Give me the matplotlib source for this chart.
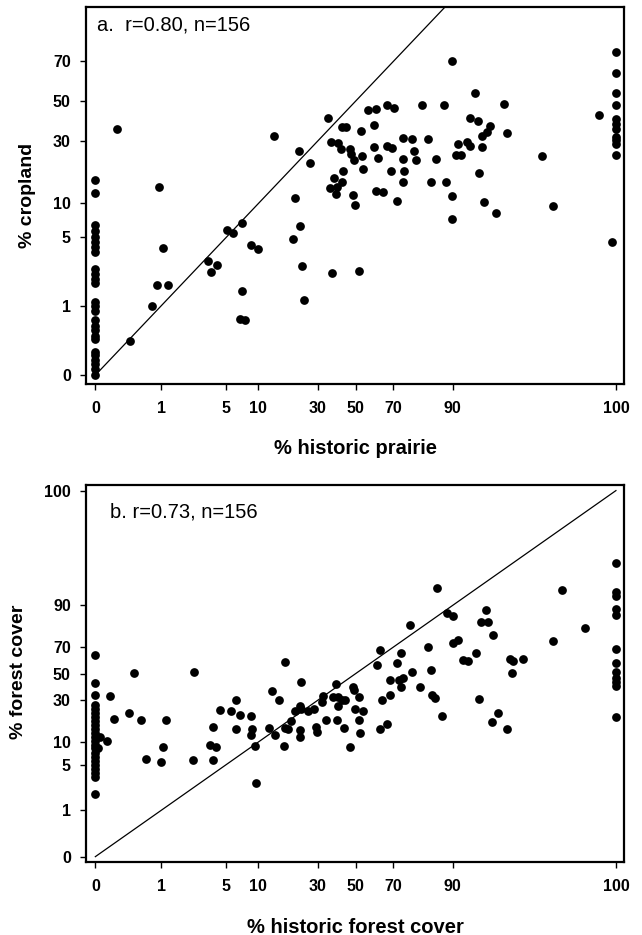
import numpy as np
import matplotlib
matplotlib.use("Agg")
import matplotlib.pyplot as plt

plt.rcParams['font.family'] = ['Liberation Sans', 'DejaVu Sans']

# ---- data (percent values) ----
tick_vals = [0, 1, 5, 10, 30, 50, 70, 90, 100]
ytick_a = [0, 1, 5, 10, 30, 50, 70]

# panel a: % historic prairie vs % cropland
crop_at_zero = [15.6, 12.3, 6.45, 5.77, 5.0, 4.5, 4.06, 3.63, 2.5, 2.22, 1.96, 1.78,
                1.09, 1.0, 0.87, 0.65, 0.55, 0.47, 0.38, 0.34, 0.19, 0.16, 0.11, 0.08,
                0.04, 0.0]
crop_at_hundred = [73.9, 64.6, 54.1, 48.0, 40.6, 37.8, 35.4, 31.8, 30.3, 28.7, 24.2]
prairie_pts = [
    (0.19, 35.4), (0.94, 13.7), (1.05, 4.0), (0.87, 1.7), (1.2, 1.7), (0.75, 1.0),
    (0.35, 0.32), (3.3, 3.0), (3.5, 2.3), (4.05, 2.7), (5.1, 5.8), (5.85, 5.5),
    (7.1, 6.8), (8.55, 4.2), (9.9, 3.9), (7.1, 1.45), (6.7, 0.69), (7.6, 0.65),
    (13.6, 32.2), (22, 25.8), (26.5, 21.2), (20.4, 11.1), (22.1, 6.3), (19.7, 4.8),
    (23, 2.64), (24, 1.15), (35.2, 41.3), (37, 2.26), (51.9, 2.35),
    (89.9, 70), (57, 45.5), (61, 45.9), (67, 48.1), (70.1, 46.5), (81.6, 47.9),
    (88, 47.9), (42.2, 36.3), (44.6, 36.3), (52.8, 34.6), (60.2, 37.3), (36.4, 29.6),
    (40.3, 29.2), (41.7, 26.4), (46.9, 26.3), (47.4, 24.5), (49.3, 22.0), (53.7, 23.6),
    (60, 27.3), (62.3, 22.9), (66.7, 27.7), (69.6, 26.75), (74.5, 31.3), (78.2, 30.7),
    (83.7, 31.0), (78.7, 25.6), (79.5, 22.3), (74.5, 22.4), (85.9, 22.5), (43.1, 18.2),
    (53.9, 18.9), (69, 18.4), (74.8, 18.3), (37.9, 16.2), (42.6, 15.0), (74.5, 15.0),
    (84.6, 14.9), (88.5, 14.9), (36, 13.4), (39.5, 13.7), (39.3, 12.05), (48.5, 11.85),
    (49.6, 9.7), (61.3, 12.8), (65.1, 12.5), (71.5, 10.5), (89.9, 11.6), (89.9, 7.36),
    (93.8, 54.2), (96.8, 48.6), (99.86, 42.6), (93.1, 41.3), (94.2, 39.8), (95.5, 37.1),
    (95.2, 34.0), (94.7, 32.1), (97, 33.5), (91, 28.5), (92.5, 29.4), (93, 27.7),
    (94.6, 27.3), (90.7, 24.1), (91.5, 24.1), (94.3, 17.6), (94.9, 10.3), (96.1, 8.2),
    (98.75, 23.5), (99.1, 9.5), (99.97, 4.5),
]

# panel b: % historic forest cover vs % forest cover
forest_at_zero = [64.4, 42.5, 33.5, 26.9, 24.5, 22.1, 20.0, 18.0, 16.2, 14.5, 13.0,
                  11.6, 10.4, 9.2, 8.3, 7.2, 6.4, 5.6, 5.0, 4.35, 3.85, 3.36, 1.83]
forest_at_hundred = [97.4, 93.3, 92.4, 88.8, 86.6, 68.9, 58.7, 51.3, 46.4, 43.6, 40.6, 20.2]
forest_pts = [
    (0.03, 11.7), (0.02, 8.3), (0.12, 33.1), (0.15, 18.8), (0.09, 10.4), (0.41, 50.3),
    (0.33, 22.0), (0.53, 18.4), (1.13, 18.4), (0.63, 6.0), (1.0, 5.47), (1.04, 8.5),
    (2.33, 51.3), (2.3, 5.8), (3.69, 15.4), (3.42, 9.1), (3.93, 8.6), (3.66, 5.7),
    (4.3, 24.0), (5.6, 23.0), (6.8, 21.2), (6.2, 30.0), (6.25, 14.4), (8.55, 20.3),
    (8.8, 14.4), (8.55, 12.4), (9.3, 8.9), (9.6, 2.75), (13.1, 36.5), (15.1, 30.0),
    (17.0, 59.0), (12.4, 14.8), (14.0, 12.4), (16.5, 8.9), (17.0, 15.0), (18.0, 14.4),
    (18.9, 18.0), (20.3, 23.2), (22.8, 43.6), (22.3, 26.3), (22.6, 24.2), (22.3, 14.1),
    (22.3, 11.7), (25.6, 23.4), (28.3, 24.2), (29.2, 15.5), (29.5, 13.3), (32.3, 33.1),
    (31.8, 28.5), (33.8, 18.6),
    (39.3, 41.5), (37.7, 32.4), (40.4, 32.4), (42.2, 30.3), (44.0, 29.8), (40.4, 26.3),
    (39.5, 18.6), (43.6, 14.8), (48.5, 39.8), (48.9, 37.3), (51.85, 32.4), (49.6, 24.2),
    (53.9, 23.4), (52.0, 18.6), (52.6, 13.1), (46.7, 8.6), (63.3, 68.1), (61.6, 56.9),
    (64.3, 30.3), (68.6, 33.4), (68.4, 45.0), (63.3, 14.6), (66.9, 16.8), (73.3, 66.0),
    (71.8, 58.7), (77.9, 51.5), (72.6, 45.0), (74.2, 46.4), (73.3, 39.4), (81.0, 39.4),
    (83.5, 70.0), (84.6, 52.9), (84.8, 33.6), (85.8, 31.3), (87.6, 20.6), (90.1, 72.6),
    (91.0, 74.3), (86.3, 94.0), (77.2, 82.6), (88.7, 87.6), (90.1, 86.3), (95.1, 88.4),
    (94.5, 83.8), (95.3, 83.8), (95.8, 77.4), (93.9, 65.6), (91.9, 60.7), (92.8, 59.7),
    (97.2, 61.7), (97.4, 60.2), (97.95, 61.2), (97.3, 50.8), (99.1, 74.0), (99.3, 93.6),
    (99.7, 81.3), (94.3, 30.8), (95.7, 17.7), (96.3, 22.3), (97.0, 14.6),
]

# ---- logit-type percent scale ----
C = 0.3


def fwd(p):
    p = np.asarray(p, dtype=float)
    with np.errstate(all='ignore'):
        return np.log((p + C) / (100 + C - p))


def inv(f):
    e = np.exp(np.asarray(f, dtype=float))
    return ((100 + C) * e - C) / (1 + e)


def scatter_panel(ax, zero_col, hundred_col, pts):
    xs = [0] * len(zero_col) + [100] * len(hundred_col) + [p[0] for p in pts]
    ys = list(zero_col) + list(hundred_col) + [p[1] for p in pts]
    ax.plot(xs, ys, 'o', color='black', ms=6.3, mew=0, clip_on=False, zorder=3)


fig = plt.figure(figsize=(6.42, 9.35), dpi=100)
ax_a = fig.add_axes([0.134, 0.5893, 0.8385, 0.4029])
ax_b = fig.add_axes([0.134, 0.0778, 0.8385, 0.4035])

for ax in (ax_a, ax_b):
    ax.set_xscale('function', functions=(fwd, inv))
    ax.set_yscale('function', functions=(fwd, inv))
    ax.plot([0, 100], [0, 100], color='black', lw=0.9, zorder=2)
    ax.set_xlim(inv(-6.02), inv(6.0))
    ax.set_xticks(tick_vals, [str(t) for t in tick_vals], fontweight='bold')
    ax.tick_params(direction='out', length=4, width=1, labelsize=11.5)
    ax.tick_params(axis='x', pad=8)
    ax.tick_params(axis='y', pad=7)
    for s in ax.spines.values():
        s.set_linewidth(1.6)

scatter_panel(ax_a, crop_at_zero, crop_at_hundred, prairie_pts)
scatter_panel(ax_b, forest_at_zero, forest_at_hundred, forest_pts)

ax_a.set_ylim(inv(-6.0), inv(1.99))
ax_a.set_yticks(ytick_a, [str(t) for t in ytick_a], fontweight='bold')
ax_b.set_ylim(inv(-5.99), inv(5.99))
ax_b.set_yticks(tick_vals, [str(t) for t in tick_vals], fontweight='bold')
for ax in (ax_a, ax_b):
    ax.minorticks_off()

ax_a.set_xlabel('% historic prairie', fontsize=14.5, fontweight='bold')
ax_a.set_ylabel('% cropland', fontsize=14, fontweight='bold')
ax_b.set_xlabel('% historic forest cover', fontsize=14.5, fontweight='bold')
ax_b.set_ylabel('% forest cover', fontsize=14, fontweight='bold')
ax_a.xaxis.set_label_coords(0.5, -0.147)
ax_b.xaxis.set_label_coords(0.5, -0.147)
ax_a.yaxis.set_label_coords(-0.093, 0.5)
ax_b.yaxis.set_label_coords(-0.11, 0.505)

ax_a.text(0.0204, 0.953, 'a.  r=0.80, n=156', transform=ax_a.transAxes,
          ha='left', va='center', fontsize=14.5)
ax_b.text(0.0446, 0.929, 'b. r=0.73, n=156', transform=ax_b.transAxes,
          ha='left', va='center', fontsize=14.5)

fig.savefig('out.png', dpi=100)
